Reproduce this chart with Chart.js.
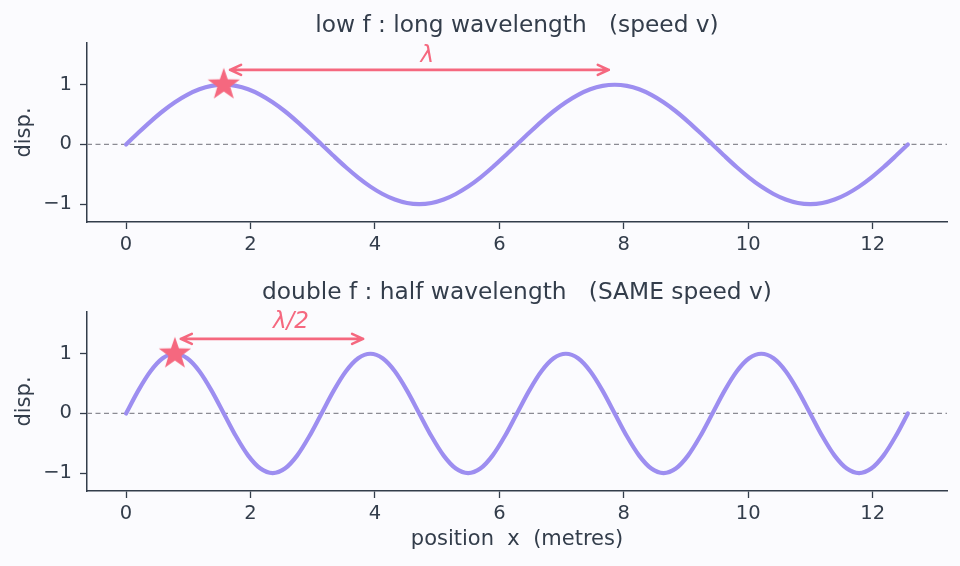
<!DOCTYPE html>
<html>
<head>
<meta charset="utf-8">
<script src="https://cdn.jsdelivr.net/npm/chart.js@4.4.1/dist/chart.umd.min.js"></script>
<style>
  body { margin: 0; background: #fbfbfe; }
  canvas { display: block; }
</style>
</head>
<body>
<canvas id="top" width="960" height="270"></canvas>
<canvas id="bottom" width="960" height="296"></canvas>
<script>
// positions along the string (m)
const xs = [0, 0.196, 0.393, 0.589, 0.785, 0.982, 1.178, 1.374, 1.571, 1.767, 1.963, 2.160, 2.356,
  2.553, 2.749, 2.945, 3.142, 3.338, 3.534, 3.731, 3.927, 4.123, 4.320, 4.516, 4.712, 4.909,
  5.105, 5.301, 5.498, 5.694, 5.890, 6.087, 6.283, 6.480, 6.676, 6.872, 7.069, 7.265, 7.461,
  7.658, 7.854, 8.050, 8.247, 8.443, 8.639, 8.836, 9.032, 9.228, 9.425, 9.621, 9.817, 10.014,
  10.210, 10.407, 10.603, 10.799, 10.996, 11.192, 11.388, 11.585, 11.781, 11.977, 12.174,
  12.370, 12.566];

// low f wave
const lowDisp = [0, 0.195, 0.383, 0.556, 0.707, 0.831, 0.924, 0.981, 1, 0.981, 0.924, 0.831, 0.707,
  0.556, 0.383, 0.195, 0, -0.195, -0.383, -0.556, -0.707, -0.831, -0.924, -0.981, -1, -0.981,
  -0.924, -0.831, -0.707, -0.556, -0.383, -0.195, 0, 0.195, 0.383, 0.556, 0.707, 0.831, 0.924,
  0.981, 1, 0.981, 0.924, 0.831, 0.707, 0.556, 0.383, 0.195, 0, -0.195, -0.383, -0.556, -0.707,
  -0.831, -0.924, -0.981, -1, -0.981, -0.924, -0.831, -0.707, -0.556, -0.383, -0.195, 0];

// double f wave
const highDisp = [0, 0.383, 0.707, 0.924, 1, 0.924, 0.707, 0.383, 0, -0.383, -0.707, -0.924, -1,
  -0.924, -0.707, -0.383, 0, 0.383, 0.707, 0.924, 1, 0.924, 0.707, 0.383, 0, -0.383, -0.707,
  -0.924, -1, -0.924, -0.707, -0.383, 0, 0.383, 0.707, 0.924, 1, 0.924, 0.707, 0.383, 0, -0.383,
  -0.707, -0.924, -1, -0.924, -0.707, -0.383, 0, 0.383, 0.707, 0.924, 1, 0.924, 0.707, 0.383, 0,
  -0.383, -0.707, -0.924, -1, -0.924, -0.707, -0.383, 0];

const xTicks = [0, 2, 4, 6, 8, 10, 12];
const yTicks = [-1, 0, 1];
const xRange = [-0.628, 13.195];
const yRange = [-1.3, 1.7];

const FONT = 'DejaVu Sans';
const INK = '#333d4b';
const WAVE = '#9d8ef0';
const MARK = '#f5687f';

function makeStar(r, color) {
  const c = document.createElement('canvas');
  c.width = c.height = 2 * r + 2;
  const g = c.getContext('2d');
  g.fillStyle = color;
  g.beginPath();
  for (let i = 0; i < 10; i++) {
    const a = -Math.PI / 2 + i * Math.PI / 5;
    const rr = i % 2 ? r * 0.4 : r;
    g.lineTo(r + 1 + rr * Math.cos(a), r + 1 + rr * Math.sin(a));
  }
  g.closePath();
  g.fill();
  return c;
}
const starImg = makeStar(17, MARK);

const minus = v => v < 0 ? '\u2212' + (-v) : '' + v;

const annot = {
  id: 'annot',
  afterDatasetsDraw(chart, args, o) {
    const {ctx, chartArea: a} = chart;
    const sx = chart.scales.x, sy = chart.scales.y;
    const cx = (a.left + a.right) / 2;
    ctx.save();
    // arrow
    const x0 = sx.getPixelForValue(o.arrow[0]), x1 = sx.getPixelForValue(o.arrow[1]);
    const y = sy.getPixelForValue(o.arrow[2]);
    ctx.strokeStyle = MARK;
    ctx.lineWidth = 2.6;
    ctx.lineCap = 'round';
    ctx.lineJoin = 'round';
    ctx.beginPath();
    ctx.moveTo(x0, y); ctx.lineTo(x1, y);
    ctx.moveTo(x0 + 11, y - 5); ctx.lineTo(x0, y); ctx.lineTo(x0 + 11, y + 5);
    ctx.moveTo(x1 - 11, y - 5); ctx.lineTo(x1, y); ctx.lineTo(x1 - 11, y + 5);
    ctx.stroke();
    // wavelength label
    ctx.fillStyle = MARK;
    ctx.font = 'italic 23px ' + FONT;
    ctx.textAlign = 'center';
    ctx.textBaseline = 'alphabetic';
    ctx.fillText(o.label, sx.getPixelForValue(o.labelX), o.labelY);
    // title
    ctx.fillStyle = INK;
    ctx.font = '23.3px ' + FONT;
    ctx.fillText(o.title, cx, o.titleY);
    // axis labels
    ctx.font = '21px ' + FONT;
    if (o.xLabel) ctx.fillText(o.xLabel, cx, o.xLabelY);
    ctx.translate(25, (a.top + a.bottom) / 2);
    ctx.rotate(-Math.PI / 2);
    ctx.textBaseline = 'middle';
    ctx.fillText('disp.', 0, 0);
    ctx.restore();
  }
};

function axis(range, ticks, pad, fit) {
  return {
    type: 'linear', min: range[0], max: range[1],
    afterBuildTicks: s => { s.ticks = ticks.map(v => ({value: v})); },
    afterFit: fit,
    ticks: { color: INK, font: {family: FONT, size: 19.5}, padding: pad, callback: minus },
    grid: { display: true, drawOnChartArea: false, drawTicks: true, tickLength: 7,
            tickWidth: 1.3, color: INK },
    border: { display: true, color: INK, width: 1.5 }
  };
}

function waveChart(id, disp, top, xHeight, o) {
  const pts = xs.map((x, i) => ({x: x, y: disp[i]}));
  return new Chart(document.getElementById(id), {
    type: 'line',
    data: { datasets: [
      { data: [{x: xRange[0], y: 0}, {x: xRange[1], y: 0}], borderColor: '#8b8b93',
        borderWidth: 1.3, borderDash: [5, 3.5], pointRadius: 0, order: 3 },
      { data: pts, borderColor: WAVE, borderWidth: 4.2, pointRadius: 0,
        cubicInterpolationMode: 'monotone', borderCapStyle: 'round', order: 2 },
      { data: [o.star], pointStyle: starImg, pointRadius: 17, showLine: false, order: 1 }
    ]},
    options: {
      responsive: false, animation: false, events: [],
      layout: { autoPadding: false, padding: {left: 0, right: 13, top: top, bottom: 0} },
      plugins: { legend: {display: false}, tooltip: {enabled: false}, annot: o },
      scales: {
        x: axis(xRange, xTicks, 4, s => {
          s.height = xHeight; s.paddingLeft = 0; s.paddingRight = 0;
        }),
        y: axis(yRange, yTicks, 8, s => {
          s.width = 87; s.paddingTop = 0; s.paddingBottom = 0;
        })
      }
    },
    plugins: [annot]
  });
}

waveChart('top', lowDisp, 43, 48, {
  star: {x: 1.571, y: 1}, arrow: [1.671, 7.759, 1.25], label: '\u03bb', labelX: 4.84, labelY: 62,
  title: 'low f : long wavelength   (speed v)', titleY: 32
});
waveChart('bottom', highDisp, 42, 75, {
  star: {x: 0.785, y: 1}, arrow: [0.88, 3.81, 1.25], label: '\u03bb/2', labelX: 2.65, labelY: 58,
  title: 'double f : half wavelength   (SAME speed v)', titleY: 29,
  xLabel: 'position  x  (metres)', xLabelY: 275
});
</script>
</body>
</html>
